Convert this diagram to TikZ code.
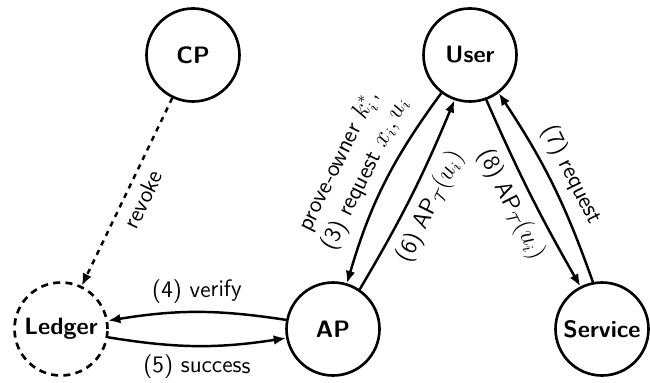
\documentclass[tikz,border=0pt]{standalone}
\usepackage{tikz}
\usetikzlibrary{arrows.meta}
\tikzstyle{party}=[circle,draw,line width=1.5pt,minimum size=1.86cm,inner sep=0pt,font=\sffamily\bfseries\fontsize{13.5pt}{16pt}\selectfont]
\tikzstyle{dashedparty}=[party,dash pattern=on 4pt off 3pt]
\tikzstyle{edge} = [draw,line width=1.4pt,-{Latex[length=7pt,width=5.5pt]}]
\tikzstyle{weight} = [font=\sffamily\fontsize{13.5pt}{17pt}\selectfont,sloped,align=center,inner sep=4.5pt]

\begin{document}
\begin{tikzpicture}
  \useasboundingbox (0,0) rectangle (13,-7.66);

  \foreach \pos/\name/\label in {{(3.86,-1.10)/cp/CP}, {(9.40,-1.10)/user/User}, {(6.66,-6.58)/ap/AP}, {(12.04,-6.58)/service/Service}}
        \node[party] (\name) at \pos {\label};
  \node[dashedparty] (ledger) at (1.22,-6.58) {Ledger};

  % revocation goes straight to the ledger
  \path[edge,dashed] (cp) -- node[weight,anchor=north] {revoke} (ledger);

  % protocol messages
  \foreach \source/\dest/\bend/\side/\weight in {
        {ap.169/ledger.10/9/south/{(4) verify}},
        {ledger.-10/ap.-169/9/north/{(5) success}},
        {user.233/ap.73/10/south/{prove-owner $k_i^*$,\\(3) request $x_i, u_i$}},
        {ap.56/user.251/4/north/{(6) AP$_{\mathcal{T}}(u_i)$}},
        {user.290/service.117/3/north/{(8) AP$_{\mathcal{T}}(u_i)$}},
        {service.101/user.307/7/south/{(7) request}}}
          \path[edge] (\source) to[bend right=\bend] node[weight,anchor=\side] {\weight} (\dest);
\end{tikzpicture}
\end{document}
